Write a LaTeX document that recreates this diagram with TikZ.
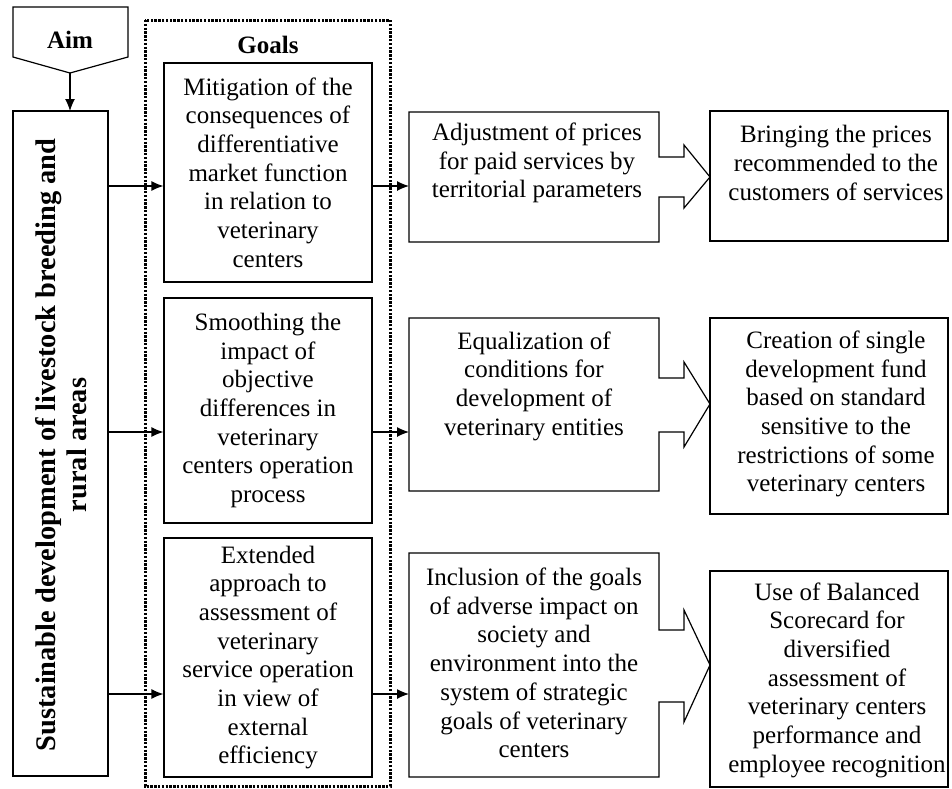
\documentclass[tikz,border=0pt]{standalone}
\usepackage{fontspec}
\setmainfont{Liberation Serif}
\usetikzlibrary{arrows.meta}
\begin{document}
\begin{tikzpicture}[x=1pt,y=-1pt,
  frame/.style={draw=black, line width=1.2pt},
  plainbox/.style={inner sep=0pt, outer sep=0pt},
  txt/.style={align=center, font=\fontsize{25}{28.7}\selectfont, inner sep=0pt},
  hd/.style={font=\bfseries\fontsize{25}{28.7}\selectfont, inner sep=0pt},
  arr/.style={line width=1.2pt, -{Latex[length=12pt,width=10pt]}},
  dots/.style={line width=3pt, dash pattern=on 2.4pt off 1.4pt},
]
\useasboundingbox (0,0) rectangle (952,788);

% row levels of the connectors
\coordinate (ya) at (0,186);
\coordinate (yb) at (0,432);
\coordinate (yc) at (0,694);

% aim marker
\draw[frame, line join=miter] (13,7) -- (128,7) -- (128,57) -- (70,73) -- (13,57) -- cycle;
\coordinate (aimtip) at (70,73);
\node[hd] (aim) at (70,40) {Aim};

% main aim box
\node[frame, plainbox, minimum width=95pt, minimum height=665pt] (lb) at (60.5,443.5) {};
\node[rotate=90, align=center, inner sep=0pt,
      font=\bfseries\fontsize{28.4}{31.5}\selectfont] (lbt) at (61,445)
  {Sustainable development of livestock breeding and\\rural areas};
\draw[arr] (aimtip) -- (aimtip |- lb.north);

% goals frame
\draw[dots] (145,20) rectangle (390,786);
\node[hd] (goals) at (268,45) {Goals};

\node[frame, txt, minimum width=208pt, minimum height=219pt] (g1) at (268,172.5)
  {Mitigation of the\\consequences of\\differentiative\\market function\\in relation to\\veterinary\\centers};
\node[frame, txt, minimum width=208pt, minimum height=225pt] (g2) at (268,410.5)
  {Smoothing the\\impact of\\objective\\differences in\\veterinary\\centers operation\\process};
\node[frame, txt, minimum width=208pt, minimum height=239pt] (g3) at (268,657.5)
  {Extended\\approach to\\assessment of\\veterinary\\service operation\\in view of\\external\\efficiency};

% measures: boxes with block arrows
\node[plainbox, minimum width=250pt, minimum height=130pt] (m1) at (534,177) {};
\node[plainbox, minimum width=250pt, minimum height=173pt] (m2) at (534,404.5) {};
\node[plainbox, minimum width=250pt, minimum height=224pt] (m3) at (534,665) {};

\draw[frame, line join=miter] (m1.north west) -- (m1.north east) -- (659,157) -- (684,157)
  -- (684,145) -- (710,177) -- (684,208) -- (684,197) -- (659,197)
  -- (m1.south east) -- (m1.south west) -- cycle;
\draw[frame, line join=miter] (m2.north west) -- (m2.north east) -- (659,378) -- (684,378)
  -- (684,362) -- (710,404) -- (684,447) -- (684,432) -- (659,432)
  -- (m2.south east) -- (m2.south west) -- cycle;
\draw[frame, line join=miter] (m3.north west) -- (m3.north east) -- (659,630) -- (684,630)
  -- (684,610) -- (710,665) -- (684,722) -- (684,702) -- (659,702)
  -- (m3.south east) -- (m3.south west) -- cycle;

\node[txt] (m1t) at (537,163)
  {Adjustment of prices\\for paid services by\\territorial parameters};
\node[txt] (m2t) at (534,386)
  {Equalization of\\conditions for\\development of\\veterinary entities};
\node[txt] (m3t) at (534,663)
  {Inclusion of the goals\\of adverse impact on\\society and\\environment into the\\system of strategic\\goals of veterinary\\centers};

% results
\node[frame, plainbox, minimum width=238pt, minimum height=130pt] (r1) at (829,176) {};
\node[frame, plainbox, minimum width=238pt, minimum height=196pt] (r2) at (829,416) {};
\node[frame, plainbox, minimum width=238pt, minimum height=216pt] (r3) at (829,679) {};

\node[txt] (r1t) at (836,163)
  {Bringing the prices\\recommended to the\\customers of services};
\node[txt] (r2t) at (836,414)
  {Creation of single\\development fund\\based on standard\\sensitive to the\\restrictions of some\\veterinary centers};
\node[txt] (r3t) at (837,680)
  {Use of Balanced\\Scorecard for\\diversified\\assessment of\\veterinary centers\\performance and\\employee recognition};

% connectors
\draw[arr] (lb.east |- ya) -- (g1.west |- ya);
\draw[arr] (lb.east |- yb) -- (g2.west |- yb);
\draw[arr] (lb.east |- yc) -- (g3.west |- yc);
\draw[arr] (g1.east |- ya) -- (m1.west |- ya);
\draw[arr] (g2.east |- yb) -- (m2.west |- yb);
\draw[arr] (g3.east |- yc) -- (m3.west |- yc);
\end{tikzpicture}
\end{document}
